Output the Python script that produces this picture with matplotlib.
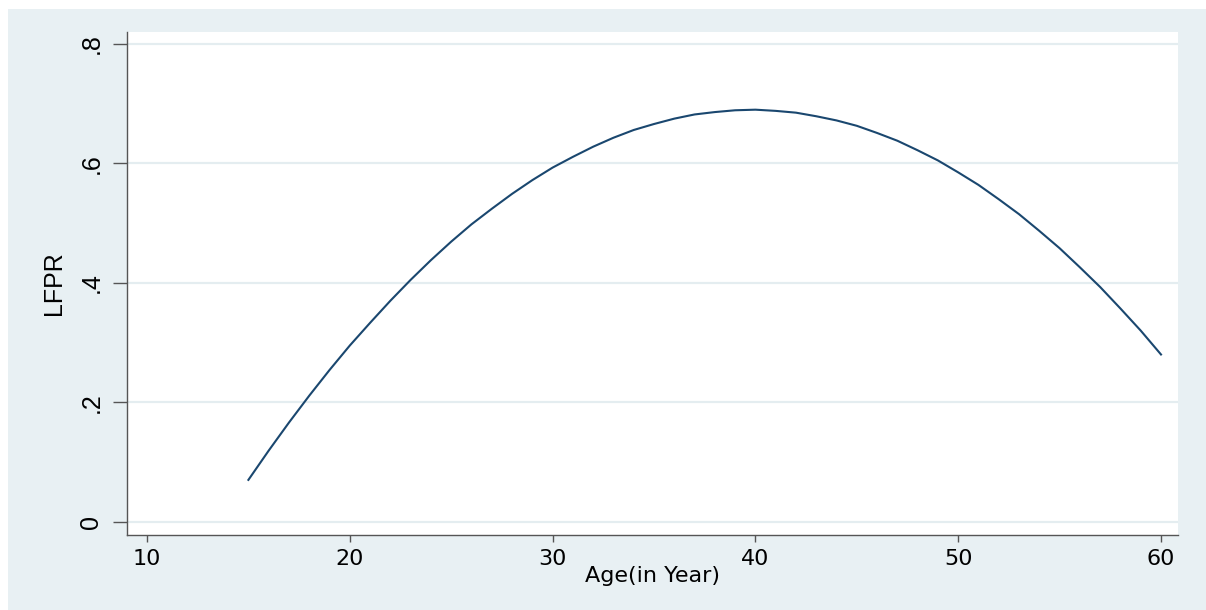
import matplotlib
matplotlib.use("Agg")
import matplotlib.pyplot as plt
from matplotlib.patches import Rectangle

plt.rcParams['font.family'] = ['Liberation Sans', 'DejaVu Sans']

age = list(range(15, 61))
lfpr = [0.070, 0.119, 0.166, 0.211, 0.254, 0.295, 0.333, 0.370, 0.405, 0.438,
        0.469, 0.498, 0.524, 0.549, 0.572, 0.593, 0.611, 0.628, 0.643, 0.656,
        0.666, 0.675, 0.682, 0.686, 0.689, 0.690, 0.688, 0.685, 0.679, 0.672,
        0.663, 0.651, 0.638, 0.622, 0.605, 0.585, 0.564, 0.540, 0.515, 0.487,
        0.458, 0.426, 0.393, 0.357, 0.320, 0.280]

xticks = [10, 20, 30, 40, 50, 60]
yticks = [0, 0.2, 0.4, 0.6, 0.8]
ytick_labels = ["0", ".2", ".4", ".6", ".8"]

W, H = 1206, 610
fig = plt.figure(figsize=(W / 100, H / 100), dpi=100, facecolor='white')
bg = '#e8f0f3'
fig.patches.append(Rectangle((8 / W, 0), 1 - 8 / W, 1 - 9 / H,
                             transform=fig.transFigure, facecolor=bg,
                             edgecolor='none', zorder=-10))

left, right, top, bottom = 127, 1178, 31.7, 535
ax = fig.add_axes([left / W, 1 - bottom / H, (right - left) / W, (bottom - top) / H])
ax.set_zorder(5)
ax.set_facecolor('white')

for yv in yticks:
    ax.axhline(yv, color='#e4edf0', lw=1.6, zorder=1)

ax.plot(age, lfpr, color='#1a476f', lw=1.5, zorder=3)

ax.set_xlim(9.014, 60.838)
ax.set_ylim(-0.0223, 0.8206)
ax.set_xticks(xticks)
ax.set_xticklabels([str(x) for x in xticks], fontsize=16, family='DejaVu Sans')
ax.set_yticks(yticks)
ax.set_yticklabels(ytick_labels, fontsize=18, rotation=90, va='center')

for s in ['top', 'right']:
    ax.spines[s].set_visible(False)
for s in ['left', 'bottom']:
    ax.spines[s].set_color('#555555')
    ax.spines[s].set_linewidth(1.0)

ax.tick_params(axis='x', length=5, width=1, color='#555555', pad=5)
ax.tick_params(axis='y', length=10, width=1, color='#555555', pad=7)

ax.set_xlabel('Age(in Year)', fontsize=16, family='DejaVu Sans', labelpad=-2)
ax.set_ylabel('LFPR', fontsize=18, labelpad=10)

fig.savefig('out.png', dpi=100, facecolor='white')
